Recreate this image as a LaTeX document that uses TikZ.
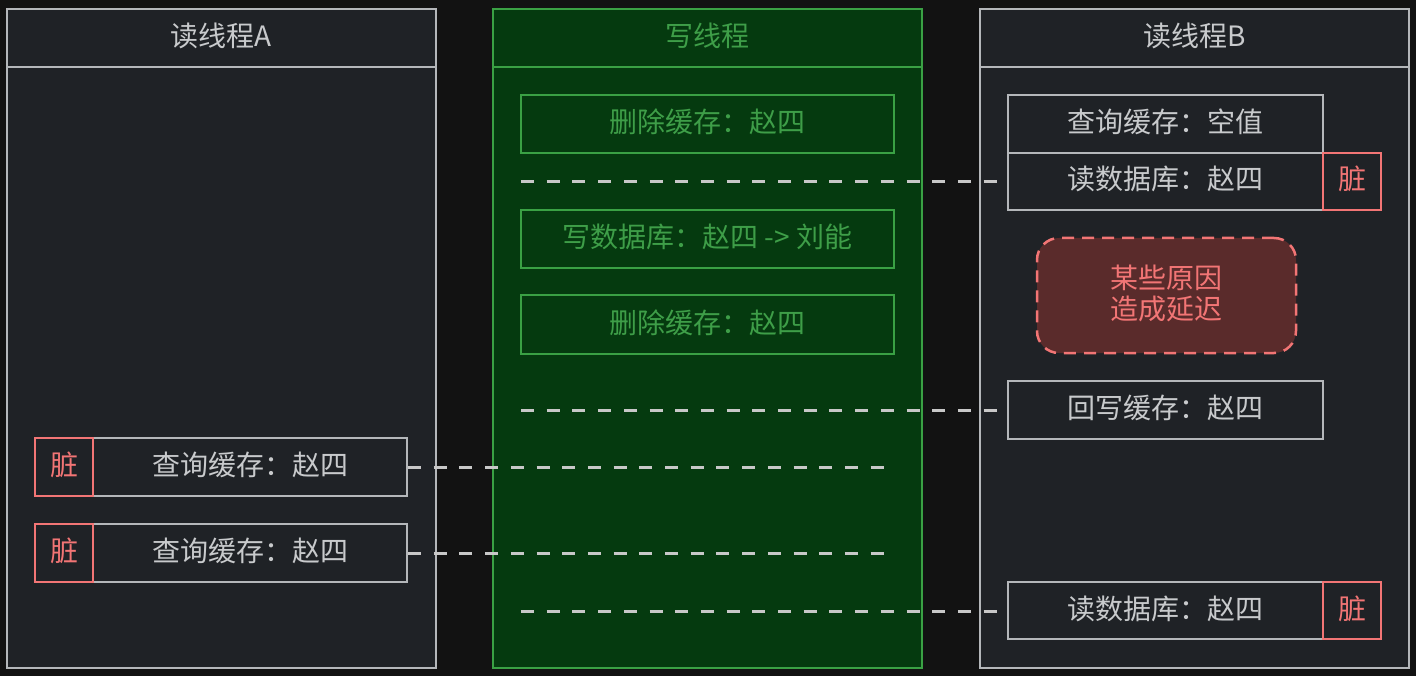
\documentclass[tikz,border=0pt]{standalone}
\usepackage{fontspec}
\setmainfont{Noto Sans CJK SC}
\definecolor{bgc}{RGB}{18,18,18}
\definecolor{panelfill}{RGB}{31,34,38}
\definecolor{greyline}{RGB}{180,183,186}
\definecolor{greytext}{RGB}{200,202,204}
\definecolor{greenfill}{RGB}{5,58,15}
\definecolor{greenline}{RGB}{58,161,68}
\definecolor{greentext}{RGB}{62,158,72}
\definecolor{redline}{RGB}{242,117,117}
\definecolor{redfill}{RGB}{90,43,43}
\definecolor{dashc}{RGB}{200,200,200}
\tikzset{
  base/.style={rectangle, inner sep=0pt, font=\fontsize{28}{31}\selectfont, align=center, text height=22pt, text depth=5pt},
  greypanel/.style={base, draw=greyline, fill=panelfill, line width=2.5pt, text=greytext},
  greenpanel/.style={base, draw=greenline, fill=greenfill, line width=2.5pt, text=greentext},
  greybox/.style={base, draw=greyline, line width=2pt, text=greytext, minimum height=58},
  greenbox/.style={base, draw=greenline, line width=2pt, text=greentext, minimum width=373, minimum height=58},
  dirtybox/.style={base, draw=redline, line width=2pt, text=redline, minimum width=58, minimum height=58},
  delaybox/.style={base, text height=53pt, draw=redline, fill=redfill, line width=2.5pt, text=redline, dashed, dash pattern=on 12pt off 8pt, rounded corners=22pt, minimum width=259, minimum height=115},
  link/.style={draw=dashc, line width=3pt, dash pattern=on 13pt off 12.7pt},
}
\begin{document}
\begin{tikzpicture}[x=1pt,y=-1pt]
\fill[bgc] (0,0) rectangle (1416,676);
\useasboundingbox (0,0) rectangle (1416,676);

% panels
\node[greypanel, minimum width=429, minimum height=659] (pA) at (221.5,338.5) {};
\node[greypanel, minimum width=429, minimum height=58] (hA) at (221.5,38) {读线程A};
\node[greenpanel, minimum width=429, minimum height=659] (pW) at (707.5,338.5) {};
\node[greenpanel, minimum width=429, minimum height=58] (hW) at (707.5,38) {写线程};
\node[greypanel, minimum width=429, minimum height=659] (pB) at (1194.5,338.5) {};
\node[greypanel, minimum width=429, minimum height=58] (hB) at (1194.5,38) {读线程B};

% write thread boxes
\node[greenbox] (w1) at (707.5,124) {删除缓存：赵四};
\node[greenbox] (w2) at (707.5,239) {写数据库：赵四 -> 刘能};
\node[greenbox] (w3) at (707.5,324.5) {删除缓存：赵四};

% read thread B
\node[greybox, minimum width=315] (b1) at (1165.5,124) {查询缓存：空值};
\node[greybox, minimum width=315, minimum height=57] (b2) at (1165.5,181.5) {读数据库：赵四};
\node[dirtybox, minimum height=57] (b2d) at (1352,181.5) {脏};
\node[delaybox] (delay) at (1166.5,295.5) {某些原因\\造成延迟};
\node[greybox, minimum width=315] (b3) at (1165.5,410) {回写缓存：赵四};
\node[greybox, minimum width=315, minimum height=57] (b4) at (1165.5,610.5) {读数据库：赵四};
\node[dirtybox, minimum height=57] (b4d) at (1352,610.5) {脏};

% read thread A
\node[greybox, minimum width=314] (a1) at (250,467) {查询缓存：赵四};
\node[dirtybox] (a1d) at (64,467) {脏};
\node[greybox, minimum width=314] (a2) at (250,553) {查询缓存：赵四};
\node[dirtybox] (a2d) at (64,553) {脏};

% free ends
\coordinate (s1) at (521,182);
\coordinate (s2) at (521,410);
\coordinate (s3) at (521,611);
\coordinate (e1) at (884,467);
\coordinate (e2) at (884,553);

% connectors
\draw[link] (s1) -- (b2.west |- s1);
\draw[link] (s2) -- (b3.west);
\draw[link] (s3) -- (b4.west |- s3);
\draw[link] (a1.east) -- (e1);
\draw[link] (a2.east) -- (e2);
\end{tikzpicture}
\end{document}
